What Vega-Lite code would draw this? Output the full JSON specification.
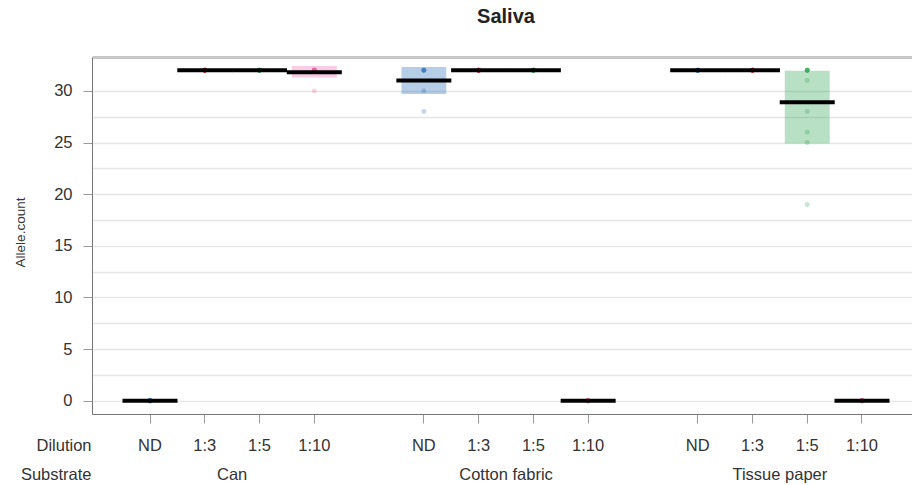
{
  "$schema": "https://vega.github.io/schema/vega-lite/v6.json",
  "autosize": {"type": "none"},
  "padding": {"left": 92, "top": 57, "right": 0, "bottom": 71},
  "width": 828,
  "height": 357,
  "title": {"text": "Saliva", "fontSize": 20, "fontWeight": "bold", "font": "Liberation Sans", "color": "#222222", "anchor": "middle", "offset": 30},
  "config": {"view": {"stroke": null}, "font": "Liberation Sans"},
  "datasets": {
    "bands": [
      {"key": "Can|1:10", "dilution": "1:10", "lo": 31.3, "hi": 32.4},
      {"key": "Cotton fabric|ND", "dilution": "ND", "lo": 29.7, "hi": 32.3},
      {"key": "Tissue paper|1:5", "dilution": "1:5", "lo": 24.9, "hi": 31.95}
    ],
    "points": [
      {"key": "Can|ND", "dilution": "ND", "count": 0},
      {"key": "Can|ND", "dilution": "ND", "count": 0},
      {"key": "Can|ND", "dilution": "ND", "count": 0},
      {"key": "Can|ND", "dilution": "ND", "count": 0},
      {"key": "Can|ND", "dilution": "ND", "count": 0},
      {"key": "Can|ND", "dilution": "ND", "count": 0},
      {"key": "Can|ND", "dilution": "ND", "count": 0},
      {"key": "Can|ND", "dilution": "ND", "count": 0},
      {"key": "Can|ND", "dilution": "ND", "count": 0},
      {"key": "Can|ND", "dilution": "ND", "count": 0},
      {"key": "Can|1:3", "dilution": "1:3", "count": 32},
      {"key": "Can|1:3", "dilution": "1:3", "count": 32},
      {"key": "Can|1:3", "dilution": "1:3", "count": 32},
      {"key": "Can|1:3", "dilution": "1:3", "count": 32},
      {"key": "Can|1:3", "dilution": "1:3", "count": 32},
      {"key": "Can|1:3", "dilution": "1:3", "count": 32},
      {"key": "Can|1:3", "dilution": "1:3", "count": 32},
      {"key": "Can|1:3", "dilution": "1:3", "count": 32},
      {"key": "Can|1:3", "dilution": "1:3", "count": 32},
      {"key": "Can|1:3", "dilution": "1:3", "count": 32},
      {"key": "Can|1:5", "dilution": "1:5", "count": 32},
      {"key": "Can|1:5", "dilution": "1:5", "count": 32},
      {"key": "Can|1:5", "dilution": "1:5", "count": 32},
      {"key": "Can|1:5", "dilution": "1:5", "count": 32},
      {"key": "Can|1:5", "dilution": "1:5", "count": 32},
      {"key": "Can|1:5", "dilution": "1:5", "count": 32},
      {"key": "Can|1:5", "dilution": "1:5", "count": 32},
      {"key": "Can|1:5", "dilution": "1:5", "count": 32},
      {"key": "Can|1:5", "dilution": "1:5", "count": 32},
      {"key": "Can|1:5", "dilution": "1:5", "count": 32},
      {"key": "Can|1:10", "dilution": "1:10", "count": 32},
      {"key": "Can|1:10", "dilution": "1:10", "count": 32},
      {"key": "Can|1:10", "dilution": "1:10", "count": 32},
      {"key": "Can|1:10", "dilution": "1:10", "count": 32},
      {"key": "Can|1:10", "dilution": "1:10", "count": 32},
      {"key": "Can|1:10", "dilution": "1:10", "count": 32},
      {"key": "Can|1:10", "dilution": "1:10", "count": 32},
      {"key": "Can|1:10", "dilution": "1:10", "count": 32},
      {"key": "Can|1:10", "dilution": "1:10", "count": 32},
      {"key": "Can|1:10", "dilution": "1:10", "count": 30},
      {"key": "Cotton fabric|ND", "dilution": "ND", "count": 32},
      {"key": "Cotton fabric|ND", "dilution": "ND", "count": 32},
      {"key": "Cotton fabric|ND", "dilution": "ND", "count": 32},
      {"key": "Cotton fabric|ND", "dilution": "ND", "count": 32},
      {"key": "Cotton fabric|ND", "dilution": "ND", "count": 30},
      {"key": "Cotton fabric|ND", "dilution": "ND", "count": 28},
      {"key": "Cotton fabric|1:3", "dilution": "1:3", "count": 32},
      {"key": "Cotton fabric|1:3", "dilution": "1:3", "count": 32},
      {"key": "Cotton fabric|1:3", "dilution": "1:3", "count": 32},
      {"key": "Cotton fabric|1:3", "dilution": "1:3", "count": 32},
      {"key": "Cotton fabric|1:3", "dilution": "1:3", "count": 32},
      {"key": "Cotton fabric|1:3", "dilution": "1:3", "count": 32},
      {"key": "Cotton fabric|1:3", "dilution": "1:3", "count": 32},
      {"key": "Cotton fabric|1:3", "dilution": "1:3", "count": 32},
      {"key": "Cotton fabric|1:3", "dilution": "1:3", "count": 32},
      {"key": "Cotton fabric|1:3", "dilution": "1:3", "count": 32},
      {"key": "Cotton fabric|1:5", "dilution": "1:5", "count": 32},
      {"key": "Cotton fabric|1:5", "dilution": "1:5", "count": 32},
      {"key": "Cotton fabric|1:5", "dilution": "1:5", "count": 32},
      {"key": "Cotton fabric|1:5", "dilution": "1:5", "count": 32},
      {"key": "Cotton fabric|1:5", "dilution": "1:5", "count": 32},
      {"key": "Cotton fabric|1:5", "dilution": "1:5", "count": 32},
      {"key": "Cotton fabric|1:5", "dilution": "1:5", "count": 32},
      {"key": "Cotton fabric|1:5", "dilution": "1:5", "count": 32},
      {"key": "Cotton fabric|1:5", "dilution": "1:5", "count": 32},
      {"key": "Cotton fabric|1:5", "dilution": "1:5", "count": 32},
      {"key": "Cotton fabric|1:10", "dilution": "1:10", "count": 0},
      {"key": "Cotton fabric|1:10", "dilution": "1:10", "count": 0},
      {"key": "Cotton fabric|1:10", "dilution": "1:10", "count": 0},
      {"key": "Cotton fabric|1:10", "dilution": "1:10", "count": 0},
      {"key": "Cotton fabric|1:10", "dilution": "1:10", "count": 0},
      {"key": "Cotton fabric|1:10", "dilution": "1:10", "count": 0},
      {"key": "Cotton fabric|1:10", "dilution": "1:10", "count": 0},
      {"key": "Cotton fabric|1:10", "dilution": "1:10", "count": 0},
      {"key": "Cotton fabric|1:10", "dilution": "1:10", "count": 0},
      {"key": "Cotton fabric|1:10", "dilution": "1:10", "count": 0},
      {"key": "Tissue paper|ND", "dilution": "ND", "count": 32},
      {"key": "Tissue paper|ND", "dilution": "ND", "count": 32},
      {"key": "Tissue paper|ND", "dilution": "ND", "count": 32},
      {"key": "Tissue paper|ND", "dilution": "ND", "count": 32},
      {"key": "Tissue paper|ND", "dilution": "ND", "count": 32},
      {"key": "Tissue paper|ND", "dilution": "ND", "count": 32},
      {"key": "Tissue paper|ND", "dilution": "ND", "count": 32},
      {"key": "Tissue paper|ND", "dilution": "ND", "count": 32},
      {"key": "Tissue paper|ND", "dilution": "ND", "count": 32},
      {"key": "Tissue paper|ND", "dilution": "ND", "count": 32},
      {"key": "Tissue paper|1:3", "dilution": "1:3", "count": 32},
      {"key": "Tissue paper|1:3", "dilution": "1:3", "count": 32},
      {"key": "Tissue paper|1:3", "dilution": "1:3", "count": 32},
      {"key": "Tissue paper|1:3", "dilution": "1:3", "count": 32},
      {"key": "Tissue paper|1:3", "dilution": "1:3", "count": 32},
      {"key": "Tissue paper|1:3", "dilution": "1:3", "count": 32},
      {"key": "Tissue paper|1:3", "dilution": "1:3", "count": 32},
      {"key": "Tissue paper|1:3", "dilution": "1:3", "count": 32},
      {"key": "Tissue paper|1:3", "dilution": "1:3", "count": 32},
      {"key": "Tissue paper|1:3", "dilution": "1:3", "count": 32},
      {"key": "Tissue paper|1:5", "dilution": "1:5", "count": 32},
      {"key": "Tissue paper|1:5", "dilution": "1:5", "count": 32},
      {"key": "Tissue paper|1:5", "dilution": "1:5", "count": 32},
      {"key": "Tissue paper|1:5", "dilution": "1:5", "count": 32},
      {"key": "Tissue paper|1:5", "dilution": "1:5", "count": 32},
      {"key": "Tissue paper|1:5", "dilution": "1:5", "count": 31},
      {"key": "Tissue paper|1:5", "dilution": "1:5", "count": 28},
      {"key": "Tissue paper|1:5", "dilution": "1:5", "count": 26},
      {"key": "Tissue paper|1:5", "dilution": "1:5", "count": 25},
      {"key": "Tissue paper|1:5", "dilution": "1:5", "count": 19},
      {"key": "Tissue paper|1:10", "dilution": "1:10", "count": 0},
      {"key": "Tissue paper|1:10", "dilution": "1:10", "count": 0},
      {"key": "Tissue paper|1:10", "dilution": "1:10", "count": 0},
      {"key": "Tissue paper|1:10", "dilution": "1:10", "count": 0},
      {"key": "Tissue paper|1:10", "dilution": "1:10", "count": 0},
      {"key": "Tissue paper|1:10", "dilution": "1:10", "count": 0},
      {"key": "Tissue paper|1:10", "dilution": "1:10", "count": 0},
      {"key": "Tissue paper|1:10", "dilution": "1:10", "count": 0},
      {"key": "Tissue paper|1:10", "dilution": "1:10", "count": 0},
      {"key": "Tissue paper|1:10", "dilution": "1:10", "count": 0}
    ]
  },
  "layer": [
    {
      "data": {"name": "bands"},
      "mark": {"type": "bar", "width": {"band": 0.82}, "opacity": 0.3},
      "encoding": {
        "x": {
          "field": "key", "type": "nominal",
          "scale": {"domain": ["Can|ND", "Can|1:3", "Can|1:5", "Can|1:10", "gap1", "Cotton fabric|ND", "Cotton fabric|1:3", "Cotton fabric|1:5", "Cotton fabric|1:10", "gap2", "Tissue paper|ND", "Tissue paper|1:3", "Tissue paper|1:5", "Tissue paper|1:10"], "paddingInner": 0, "paddingOuter": 0.559},
          "axis": {
            "orient": "bottom",
            "values": ["Can|ND", "Can|1:3", "Can|1:5", "Can|1:10", "Cotton fabric|ND", "Cotton fabric|1:3", "Cotton fabric|1:5", "Cotton fabric|1:10", "Tissue paper|ND", "Tissue paper|1:3", "Tissue paper|1:5", "Tissue paper|1:10"],
            "labelExpr": "substring(datum.label, indexof(datum.label, '|') + 1)",
            "labelAngle": 0, "labelFontSize": 16.5, "labelColor": "#333333", "labelPadding": 14,
            "tickSize": 9, "tickColor": "#999999", "domainColor": "#777777", "grid": false,
            "title": "Dilution", "titleFontSize": 16.5, "titleFontWeight": "normal", "titleColor": "#333333",
            "titleAngle": 0, "titleAlign": "right", "titleBaseline": "middle", "titleX": -1, "titleY": 31
          }
        },
        "y": {
          "field": "lo", "type": "quantitative",
          "scale": {"domain": [-1.28, 33.28], "nice": false, "zero": false},
          "axis": {"orient": "left", "values": [0, 2.5, 5, 7.5, 10, 12.5, 15, 17.5, 20, 22.5, 25, 27.5, 30], "grid": true, "gridColor": "#e6e6e6", "gridWidth": 1.5, "labels": false, "ticks": false, "domain": false, "title": null}
        },
        "y2": {"field": "hi"},
        "color": {"field": "dilution", "type": "nominal", "scale": {"domain": ["ND", "1:3", "1:5", "1:10"], "range": ["#0C5BB0", "#EE0011", "#15983D", "#EC579A"]}, "legend": null}
      }
    },
    {
      "data": {"name": "points"},
      "mark": {"type": "circle", "size": 24, "opacity": 0.25},
      "encoding": {
        "x": {
          "field": "key", "type": "nominal",
          "scale": {"domain": ["Can|ND", "Can|1:3", "Can|1:5", "Can|1:10", "gap1", "Cotton fabric|ND", "Cotton fabric|1:3", "Cotton fabric|1:5", "Cotton fabric|1:10", "gap2", "Tissue paper|ND", "Tissue paper|1:3", "Tissue paper|1:5", "Tissue paper|1:10"], "paddingInner": 0, "paddingOuter": 0.559},
          "axis": {
            "orient": "bottom",
            "values": ["Can|1:3", "Cotton fabric|1:3", "Tissue paper|1:3"],
            "labelOffset": 27.4,
            "labelExpr": "substring(datum.label, 0, indexof(datum.label, '|'))",
            "labelAngle": 0, "labelFontSize": 16.5, "labelColor": "#333333", "labelPadding": 52,
            "ticks": false, "tickSize": 0, "domain": false, "grid": false,
            "title": "Substrate", "titleFontSize": 16.5, "titleFontWeight": "normal", "titleColor": "#333333",
            "titleAngle": 0, "titleAlign": "right", "titleBaseline": "middle", "titleX": -1, "titleY": 60
          }
        },
        "y": {
          "field": "count", "type": "quantitative",
          "scale": {"domain": [-1.28, 33.28], "nice": false, "zero": false},
          "axis": {
            "orient": "left", "values": [0, 5, 10, 15, 20, 25, 30], "grid": false,
            "domainColor": "#777777", "tickColor": "#999999", "tickSize": 9, "labelPadding": 11,
            "labelFontSize": 16.5, "labelColor": "#333333",
            "title": "Allele.count", "titleFontSize": 13.5, "titleFontWeight": "normal", "titleColor": "#333333",
            "titleBaseline": "middle", "titleX": -72, "titleY": 175
          }
        },
        "color": {"field": "dilution", "type": "nominal", "scale": {"domain": ["ND", "1:3", "1:5", "1:10"], "range": ["#0C5BB0", "#EE0011", "#15983D", "#EC579A"]}, "legend": null}
      }
    },
    {
      "data": {"name": "points"},
      "mark": {"type": "tick", "size": 55, "thickness": 4, "color": "#000000", "opacity": 1},
      "encoding": {
        "x": {
          "field": "key", "type": "nominal",
          "scale": {"domain": ["Can|ND", "Can|1:3", "Can|1:5", "Can|1:10", "gap1", "Cotton fabric|ND", "Cotton fabric|1:3", "Cotton fabric|1:5", "Cotton fabric|1:10", "gap2", "Tissue paper|ND", "Tissue paper|1:3", "Tissue paper|1:5", "Tissue paper|1:10"], "paddingInner": 0, "paddingOuter": 0.559},
          "axis": {"orient": "top", "labels": false, "ticks": false, "grid": false, "domain": true, "domainColor": "#c8c8c8", "domainWidth": 3, "title": null}
        },
        "y": {
          "aggregate": "mean", "field": "count", "type": "quantitative",
          "scale": {"domain": [-1.28, 33.28], "nice": false, "zero": false},
          "axis": null
        }
      }
    }
  ],
  "resolve": {"axis": {"x": "independent", "y": "independent"}}
}
